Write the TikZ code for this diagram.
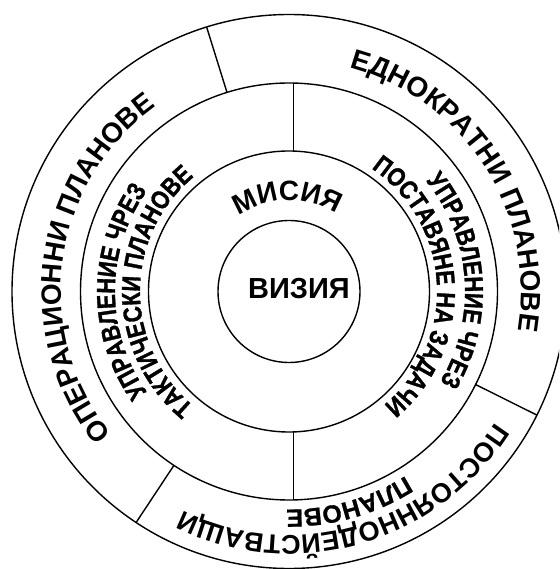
\documentclass[tikz,border=0pt]{standalone}
\usepackage{fontspec}
\setmainfont{Liberation Sans}
\newfontfamily\narrowfam[FakeStretch=0.84, FakeBold=1.2]{Liberation Sans}
\newfontfamily\heavyfam[FakeBold=0.8]{Liberation Sans}
\usetikzlibrary{decorations.text}
\newcommand\bigtxt{\fontsize{28}{28}\selectfont\bfseries}
\newcommand\bottxt{\fontsize{27}{27}\selectfont\bfseries}
\newcommand\smalltxt{\narrowfam\fontsize{26}{26}\selectfont\bfseries}
\newcommand\plantxt{\heavyfam\fontsize{25}{25}\selectfont\bfseries}
% #1 centre angle, #2 baseline radius, #3 half span, #4 text, #5 font
\newcommand\cwtext[5]{%
  \begin{scope}#5%
  \path[decorate, decoration={text along path, text align=center, text={|#5|#4}}]
    (#1+#3:#2pt) arc[start angle=#1+#3, end angle=#1-#3, radius=#2pt];
  \end{scope}}
\begin{document}
\begin{tikzpicture}[x=1pt, y=1pt,
  ring/.style={line width=1.4pt},
  divider/.style={line width=1.4pt}]
\clip (-289,-277.5) rectangle (270,291.5);
\fill[white] (-289,-277.5) rectangle (270,291.5);
\coordinate (O) at (0,0);
% circles
\draw[ring] (O) circle[radius=71pt];
\draw[ring] (O) circle[radius=140.5pt];
\draw[ring] (O) circle[radius=208.5pt];
\draw[ring] (O) circle[radius=277pt];
% dividers of the outer ring
\draw[divider] (107.3:208.5pt) -- (107.3:277pt);
\draw[divider] (236.5:208.5pt) -- (236.5:277pt);
\draw[divider] (-26.5:208.5pt) -- (-26.5:277pt);
% dividers of the middle ring
\coordinate (t1) at (4.5,140.4);
\coordinate (t2) at (4.5,208.4);
\coordinate (b1) at (4.5,-140.4);
\coordinate (b2) at (4.5,-208.4);
\draw[divider] (t1) -- (t2);
\draw[divider] (b1) -- (b2);
% centre
\node[font=\fontsize{29}{29}\selectfont\bfseries, inner sep=0pt] (vis) at (10,2.5) {ВИЗИЯ};
\cwtext{91}{91}{80}{МИСИЯ}{\fontsize{28}{28}\selectfont\bfseries}
% outer ring
\cwtext{172.2}{228}{80}{ОПЕРАЦИОННИ ПЛАНОВЕ}{\bigtxt}
\cwtext{32.6}{232}{80}{ЕДНОКРАТНИ ПЛАНОВЕ}{\bigtxt}
\cwtext{-74.2}{244}{80}{ПОСТОЯННОДЕЙСТВАЩИ}{\bottxt}
\cwtext{-74.2}{218}{60}{ПЛАНОВЕ}{\plantxt}
% middle ring
\cwtext{180}{174}{80}{УПРАВЛЕНИЕ ЧРЕЗ}{\smalltxt}
\cwtext{180}{149}{80}{ТАКТИЧЕСКИ ПЛАНОВЕ}{\smalltxt}
\cwtext{4}{176}{80}{УПРАВЛЕНИЕ ЧРЕЗ}{\smalltxt}
\cwtext{3}{148}{80}{ПОСТАВЯНЕ НА ЗАДАЧИ}{\smalltxt}
\end{tikzpicture}
\end{document}
